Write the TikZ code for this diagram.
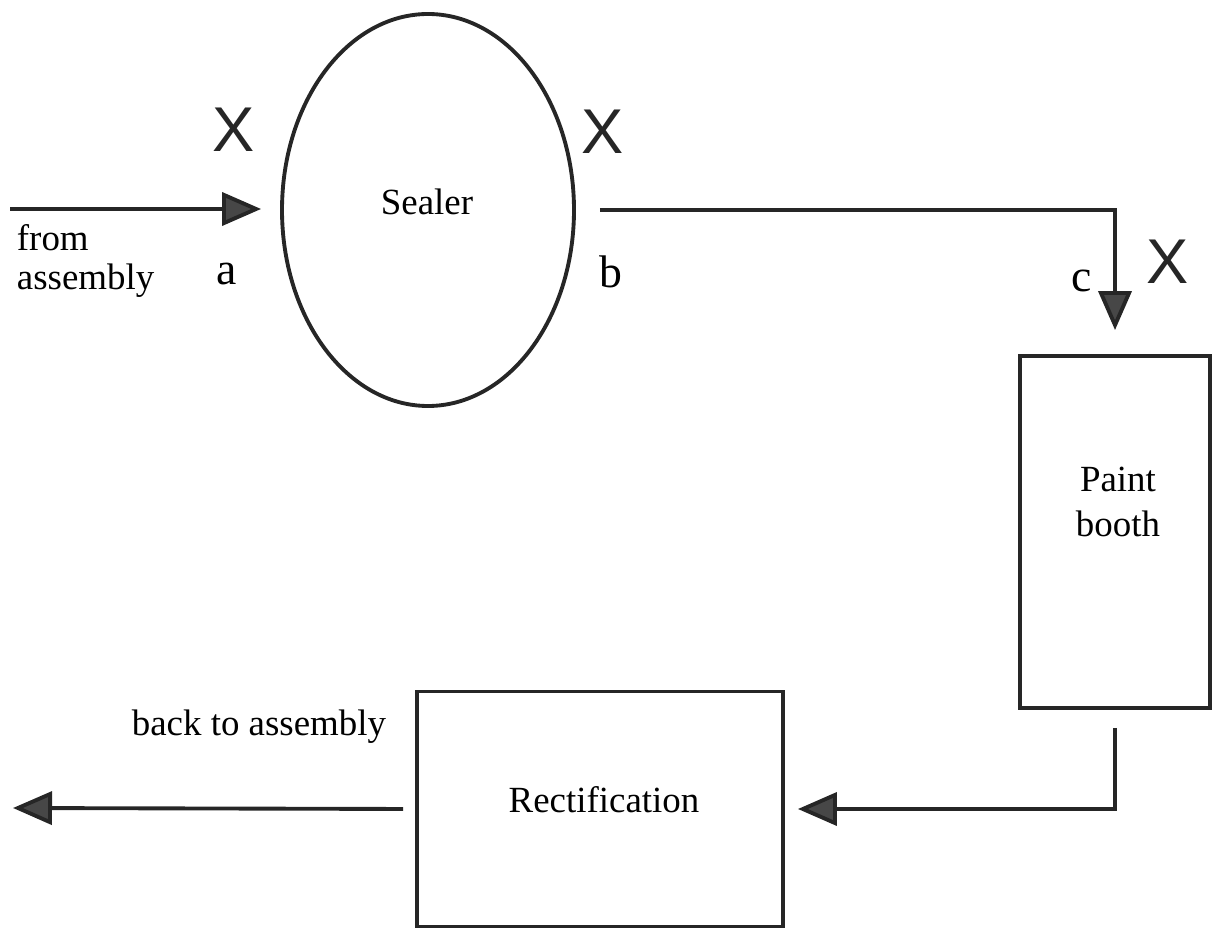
\documentclass[tikz,border=0pt]{standalone}
\usepackage{fontspec}
\setmainfont{Liberation Serif}
\newfontfamily\xfont{Liberation Sans}
\usetikzlibrary{arrows.meta,shapes.geometric}

\begin{document}
\begin{tikzpicture}[line width=2.2pt,
  stagestyle/.style={draw=black!85,font=\fontsize{21}{24}\selectfont},
  flowstyle/.style={draw=black!85,-{Triangle[length=0.78cm,width=0.66cm,fill=black!72]}},
  markstyle/.style={font=\xfont\fontsize{36}{40}\selectfont,text=black!85},
  textstyle/.style={font=\fontsize{21}{22}\selectfont,inner sep=0},
  letterstyle/.style={font=\fontsize{26}{28}\selectfont,inner sep=0,anchor=base}]
  \useasboundingbox (0,0) rectangle (24.34,18.64);

  % stations
  \node [stagestyle,ellipse,minimum width=5.84cm,minimum height=7.84cm] (sealer) at (8.56,14.44) {};
  \node [stagestyle,rectangle,minimum width=3.80cm,minimum height=7.04cm] (paint) at (22.30,8.00) {};
  \node [stagestyle,rectangle,minimum width=7.32cm,minimum height=4.70cm] (rect) at (12.00,2.46) {};
  \node [textstyle] (sealertext) at (8.54,14.60) {Sealer};
  \node [textstyle,align=center,font=\fontsize{21}{26}\selectfont] (painttext) at (22.36,8.60) {Paint\\booth};
  \node [textstyle] (recttext) at (12.08,2.64) {Rectification};

  % flow of cars
  \coordinate (in) at (0.20,14.46);
  \coordinate (back) at (0.26,2.48);
  \draw [flowstyle,shorten >=0.38cm] (in) -- (in -| sealer.west);
  \draw [flowstyle,shorten <=0.48cm,shorten >=0.48cm] (sealer.east) -- (paint.north |- sealer.east) -- (paint.north);
  \draw [flowstyle,shorten <=0.36cm,shorten >=0.26cm] (paint.south) -- (paint.south |- rect.east) -- (rect.east);
  \draw [flowstyle,shorten <=0.24cm] (rect.west) -- (back);

  % labels
  \node [textstyle,anchor=west,align=left] (fromtext) at (0.30,13.42) {from\\assembly};
  \node [textstyle,anchor=base east] (backtext) at (7.76,3.94) {back to assembly};
  \node [letterstyle] (pa) at (4.54,12.94) {a};
  \node [letterstyle] (pb) at (12.22,12.88) {b};
  \node [letterstyle] (pc) at (21.64,12.80) {c};
  \node [markstyle] (xa) at (4.68,16.04) {X};
  \node [markstyle] (xb) at (12.06,16.00) {X};
  \node [markstyle] (xc) at (23.36,13.40) {X};
\end{tikzpicture}
\end{document}
